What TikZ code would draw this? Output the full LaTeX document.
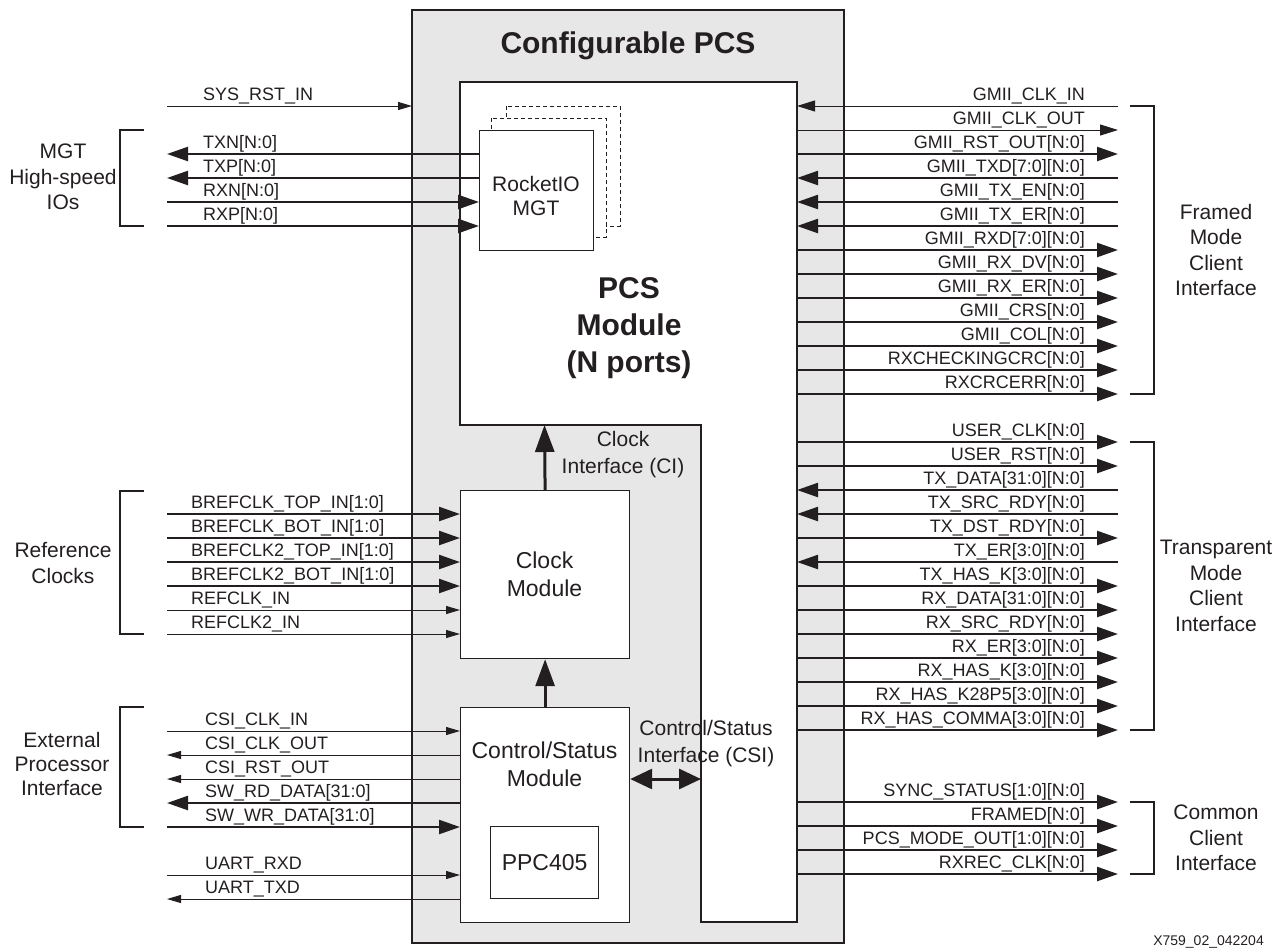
\documentclass[tikz,border=0pt]{standalone}
\usepackage{fontspec}
\setmainfont{Liberation Sans}
\usetikzlibrary{arrows.meta}
\definecolor{pcsgray}{RGB}{231,231,231}
\definecolor{ink}{RGB}{35,31,32}
\begin{document}
\begin{tikzpicture}[x=1pt,y=-1pt,
  every node/.style={text=ink, inner sep=0pt},
  sig/.style={font=\fontsize{18}{20}\selectfont},
  grp/.style={font=\fontsize{21}{25.5}\selectfont, align=center},
  ifc/.style={font=\fontsize{21}{27}\selectfont, align=center},
  modtxt/.style={font=\fontsize{23}{28}\selectfont, align=center},
  bigtxt/.style={font=\bfseries\fontsize{30}{37}\selectfont, align=center},
  boxline/.style={draw=ink, line width=1.2pt},
  kR/.style={draw=ink, line width=2.4pt, -{Triangle[length=21pt,width=14pt]}},
  kL/.style={draw=ink, line width=2.4pt, {Triangle[length=21pt,width=14pt]}-},
  nR/.style={draw=ink, line width=1pt, -{Triangle[length=14pt,width=8pt]}},
  nL/.style={draw=ink, line width=1pt, {Triangle[length=14pt,width=8pt]}-},
  mR/.style={draw=ink, line width=1pt, -{Triangle[length=18pt,width=11pt]}},
  mL/.style={draw=ink, line width=1pt, {Triangle[length=18pt,width=11pt]}-},
  bigarrow/.style={draw=ink, line width=3pt, -{Triangle[length=27pt,width=19pt]}},
  dblarrow/.style={draw=ink, line width=3pt, {Triangle[length=22pt,width=20pt]}-{Triangle[length=22pt,width=20pt]}},
  brk/.style={draw=ink, line width=1.3pt},
  dashbox/.style={draw=ink, fill=white, line width=0.9pt, dash pattern=on 4pt off 3pt}
]
\useasboundingbox (0,0) rectangle (1281,951);

% outer configurable PCS box
\draw[boxline, fill=pcsgray] (412,10) rectangle (844,943);
\node[bigtxt, anchor=base] (title) at (628,53) {Configurable PCS};

% PCS module (L shape)
\draw[boxline, fill=white] (460,82) -- (797,82) -- (797,922) -- (701,922) -- (701,425) -- (460,425) -- cycle;
\node[bigtxt, anchor=north] (pcstxt) at (629,277) {PCS\\Module\\(N ports)};

% RocketIO MGT stack
\draw[dashbox] (506,106) rectangle (620,226);
\draw[dashbox] (491,118) rectangle (606,237);
\node[boxline, fill=white, minimum width=114pt, minimum height=120pt, anchor=north west] (rio) at (479,130) {};
\node[grp, font=\fontsize{21}{24}\selectfont] (riotxt) at (536,196) {RocketIO\\MGT};

% Clock module
\node[boxline, fill=white, minimum width=169pt, minimum height=168pt, anchor=north west] (clk) at (460,490) {};
\node[modtxt] (clktxt) at (544.5,574) {Clock\\Module};

% Control/Status module
\node[boxline, fill=white, minimum width=169pt, minimum height=215pt, anchor=north west] (cs) at (460,707) {};
\node[modtxt] (cstxt) at (544.5,764) {Control/Status\\Module};
\node[boxline, fill=white, minimum width=108pt, minimum height=72pt, anchor=north west] (ppc) at (490,826) {};
\node[modtxt] (ppctxt) at (ppc.center) {PPC405};

% internal interfaces
\coordinate (ciTop) at (544.5,425);
\draw[bigarrow] (clk.north) -- (ciTop);
\draw[bigarrow] (cs.north) -- (clk.south);
\node[ifc] (citxt) at (623,455) {Clock\\Interface (CI)};
\coordinate (csiR) at (701,779);
\draw[dblarrow] (cs.east |- csiR) -- (csiR);
\node[ifc] (csitxt) at (706,744) {Control/Status\\Interface (CSI)};

% ---------- left side ----------
\coordinate (sysA) at (167,106);
\coordinate (sysB) at (412,106);
\draw[nR] (sysA) -- (sysB);
\node[sig, anchor=base west] (sysL) at (203,100) {SYS\_RST\_IN};

\foreach \lab/\y/\s [count=\i] in {TXN[N:0]/154/kL, TXP[N:0]/178/kL, RXN[N:0]/202/kR, RXP[N:0]/226/kR}{
  \coordinate (mA\i) at (167,\y);
  \coordinate (mB\i) at (479,\y);
  \draw[\s] (mA\i) -- (mB\i);
  \node[sig, anchor=base west] (mL\i) at (203,\y-6) {\lab};
}
\coordinate (b1a) at (144,130); \coordinate (b1b) at (120,130);
\coordinate (b1c) at (120,226); \coordinate (b1d) at (144,226);
\draw[brk] (b1a) -- (b1b) -- (b1c) -- (b1d);
\node[grp] (g1) at (63,177) {MGT\\High-speed\\IOs};

\foreach \lab/\y/\s [count=\i] in {BREFCLK\_TOP\_IN[1:0]/514/kR, BREFCLK\_BOT\_IN[1:0]/538/kR, BREFCLK2\_TOP\_IN[1:0]/562/kR, BREFCLK2\_BOT\_IN[1:0]/586/kR, REFCLK\_IN/610/nR, REFCLK2\_IN/634/nR}{
  \coordinate (cA\i) at (167,\y);
  \coordinate (cB\i) at (460,\y);
  \draw[\s] (cA\i) -- (cB\i);
  \node[sig, anchor=base west] (cL\i) at (191,\y-6) {\lab};
}
\coordinate (b2a) at (144,491); \coordinate (b2b) at (120,491);
\coordinate (b2c) at (120,634); \coordinate (b2d) at (144,634);
\draw[brk] (b2a) -- (b2b) -- (b2c) -- (b2d);
\node[grp] (g2) at (63,563) {Reference\\Clocks};

\foreach \lab/\y/\s [count=\i] in {CSI\_CLK\_IN/731/nR, CSI\_CLK\_OUT/755/nL, CSI\_RST\_OUT/779/nL, SW\_RD\_DATA[31:0]/803/kL, SW\_WR\_DATA[31:0]/827/kR, UART\_RXD/875/nR, UART\_TXD/899/nL}{
  \coordinate (pA\i) at (167,\y);
  \coordinate (pB\i) at (460,\y);
  \draw[\s] (pA\i) -- (pB\i);
  \node[sig, anchor=base west] (pL\i) at (205,\y-6) {\lab};
}
\coordinate (b3a) at (144,707); \coordinate (b3b) at (120,707);
\coordinate (b3c) at (120,827); \coordinate (b3d) at (144,827);
\draw[brk] (b3a) -- (b3b) -- (b3c) -- (b3d);
\node[grp, font=\fontsize{21}{24}\selectfont] (g3) at (62,764) {External\\Processor\\Interface};

% ---------- right side ----------
\foreach \lab/\s [count=\i from 0] in {GMII\_CLK\_IN/mL, GMII\_CLK\_OUT/mR, GMII\_RST\_OUT[N:0]/kR, GMII\_TXD[7:0][N:0]/kL, GMII\_TX\_EN[N:0]/kL, GMII\_TX\_ER[N:0]/kL, GMII\_RXD[7:0][N:0]/kR, GMII\_RX\_DV[N:0]/kR, GMII\_RX\_ER[N:0]/kR, GMII\_CRS[N:0]/kR, GMII\_COL[N:0]/kR, RXCHECKINGCRC[N:0]/kR, RXCRCERR[N:0]/kR}{
  \coordinate (fA\i) at (797,{106+24*\i});
  \coordinate (fB\i) at (1118,{106+24*\i});
  \draw[\s] (fA\i) -- (fB\i);
  \node[sig, anchor=base east] (fL\i) at (1085,{100+24*\i}) {\lab};
}
\coordinate (b4a) at (1130,106); \coordinate (b4b) at (1154,106);
\coordinate (b4c) at (1154,394); \coordinate (b4d) at (1130,394);
\draw[brk] (b4a) -- (b4b) -- (b4c) -- (b4d);
\node[grp] (g4) at (1216,250) {Framed\\Mode\\Client\\Interface};

\foreach \lab/\s [count=\i from 0] in {USER\_CLK[N:0]/kR, USER\_RST[N:0]/kR, TX\_DATA[31:0][N:0]/kL, TX\_SRC\_RDY[N:0]/kL, TX\_DST\_RDY[N:0]/kR, TX\_ER[3:0][N:0]/kL, TX\_HAS\_K[3:0][N:0]/kR, RX\_DATA[31:0][N:0]/kR, RX\_SRC\_RDY[N:0]/kR, RX\_ER[3:0][N:0]/kR, RX\_HAS\_K[3:0][N:0]/kR, RX\_HAS\_K28P5[3:0][N:0]/kR, RX\_HAS\_COMMA[3:0][N:0]/kR}{
  \coordinate (tA\i) at (797,{442+24*\i});
  \coordinate (tB\i) at (1118,{442+24*\i});
  \draw[\s] (tA\i) -- (tB\i);
  \node[sig, anchor=base east] (tL\i) at (1085,{436+24*\i}) {\lab};
}
\coordinate (b5a) at (1130,442); \coordinate (b5b) at (1154,442);
\coordinate (b5c) at (1154,730); \coordinate (b5d) at (1130,730);
\draw[brk] (b5a) -- (b5b) -- (b5c) -- (b5d);
\node[grp] (g5) at (1216,586) {Transparent\\Mode\\Client\\Interface};

\foreach \lab/\s [count=\i from 0] in {SYNC\_STATUS[1:0][N:0]/kR, FRAMED[N:0]/kR, PCS\_MODE\_OUT[1:0][N:0]/kR, RXREC\_CLK[N:0]/kR}{
  \coordinate (sA\i) at (797,{802+24*\i});
  \coordinate (sB\i) at (1118,{802+24*\i});
  \draw[\s] (sA\i) -- (sB\i);
  \node[sig, anchor=base east] (sL\i) at (1085,{796+24*\i}) {\lab};
}
\coordinate (b6a) at (1130,802); \coordinate (b6b) at (1154,802);
\coordinate (b6c) at (1154,874); \coordinate (b6d) at (1130,874);
\draw[brk] (b6a) -- (b6b) -- (b6c) -- (b6d);
\node[grp] (g6) at (1216,838) {Common\\Client\\Interface};

\node[font=\fontsize{14}{16}\selectfont, anchor=base east] (fig) at (1264,945) {X759\_02\_042204};
\end{tikzpicture}
\end{document}
